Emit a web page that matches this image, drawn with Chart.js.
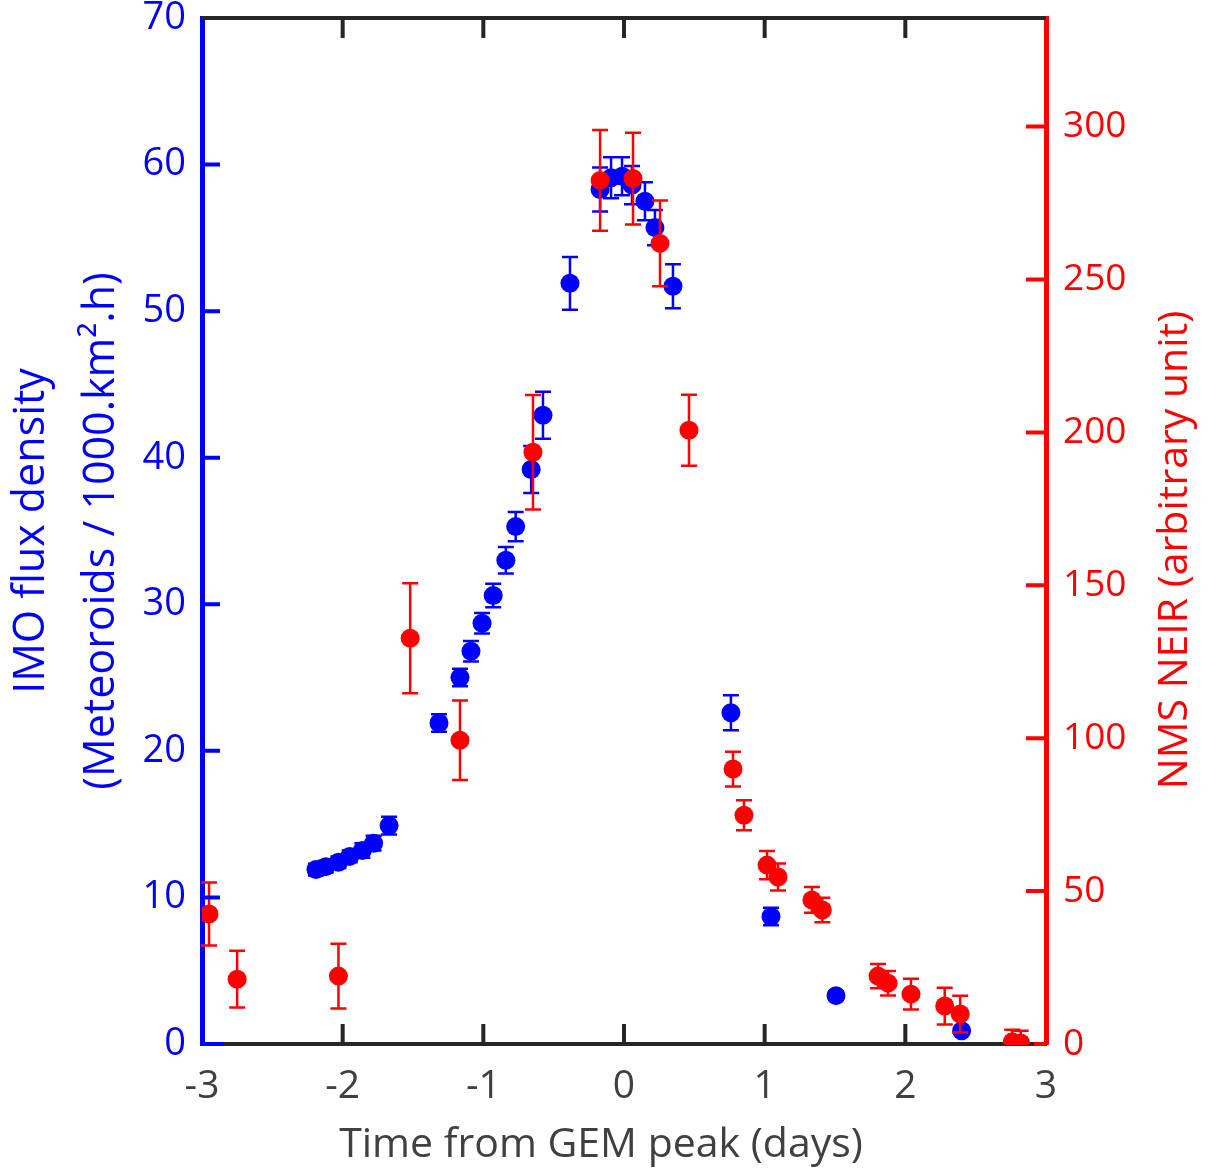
<!DOCTYPE html>
<html>
<head>
<meta charset="utf-8">
<script src="https://cdn.jsdelivr.net/npm/chart.js@4.4.0/dist/chart.umd.min.js"></script>
<style>
html, body { margin: 0; padding: 0; background: #fff; }
</style>
</head>
<body>
<canvas id="chart1" width="1209" height="1172"></canvas>
<script>
// IMO flux density (left axis)
let imoTime = [-2.19, -2.12, -2.03, -1.95, -1.86, -1.78, -1.67, -1.315, -1.166, -1.088, -1.009, -0.93, -0.84, -0.77, -0.66, -0.576, -0.384, -0.17, -0.092, -0.014, 0.057, 0.149, 0.22, 0.348, 0.76, 1.045, 1.507, 2.40]
let imoFlux = [11.9, 12.1, 12.4, 12.8, 13.2, 13.7, 14.9, 21.9, 25.0, 26.8, 28.7, 30.6, 33.0, 35.3, 39.2, 42.9, 51.9, 58.3, 59.1, 59.2, 58.6, 57.5, 55.7, 51.7, 22.6, 8.7, 3.3, 0.9]
let imoErr  = [0.4, 0.4, 0.4, 0.4, 0.5, 0.5, 0.6, 0.6, 0.6, 0.7, 0.7, 0.8, 0.9, 1.0, 1.6, 1.6, 1.8, 1.5, 1.4, 1.3, 1.3, 1.3, 1.2, 1.5, 1.2, 0.6, 0.3, 0.2]

// NMS NEIR (right axis)
let neirTime  = [-2.95, -2.75, -2.03, -1.52, -1.166, -0.647, -0.17, 0.064, 0.256, 0.462, 0.775, 0.853, 1.017, 1.095, 1.336, 1.41, 1.806, 1.877, 2.04, 2.28, 2.39, 2.76, 2.82]
let neirValue = [42.5, 21.2, 22.2, 132.7, 99.3, 193.5, 282.4, 283.0, 261.8, 200.7, 89.9, 74.8, 58.5, 54.6, 47.1, 43.8, 22.2, 19.9, 16.3, 12.4, 9.8, 0.7, 0.3]
let neirErr   = [10.3, 9.3, 10.6, 18.0, 13.0, 18.7, 16.5, 15.0, 14.0, 11.6, 5.7, 4.9, 4.6, 4.4, 4.2, 4.0, 4.0, 4.0, 5.0, 6.0, 6.0, 4.0, 4.0]

let xMin = -3, xMax = 3
let fluxMax = 70
let neirMax = 335.5

let blue = '#0000ff'
let red = '#ff0000'
let frameColor = '#262626'
let labelGray = '#404040'
let fontFamily = "'Open Sans', sans-serif"

function toPoints(xs, ys) {
    let pts = [];
    for (var i = 0; i < xs.length; i++) {
        pts.push({x: xs[i], y: ys[i]});
    }
    return pts;
}

// vertical error bars under each dataset
let errorBars = {
    id: 'errorBars',
    beforeDatasetDraw(chart, args) {
        let ds = chart.data.datasets[args.index];
        let yScale = chart.scales[args.meta.yAxisID];
        let ctx = chart.ctx;
        ctx.save();
        ctx.strokeStyle = ds.borderColor;
        ctx.lineWidth = 2.5;
        ctx.beginPath();
        args.meta.data.forEach((pt, i) => {
            let v = ds.data[i].y;
            let top = yScale.getPixelForValue(v + ds.errors[i]);
            let bot = yScale.getPixelForValue(Math.max(v - ds.errors[i], 0));
            ctx.moveTo(pt.x, top); ctx.lineTo(pt.x, bot);
            ctx.moveTo(pt.x - 8, top); ctx.lineTo(pt.x + 8, top);
            ctx.moveTo(pt.x - 8, bot); ctx.lineTo(pt.x + 8, bot);
        });
        ctx.stroke();
        ctx.restore();
    }
};

// MATLAB-style box: top line, inward ticks, x title and right axis title
let boxTicks = {
    id: 'boxTicks',
    afterDraw(chart) {
        let ctx = chart.ctx;
        let a = chart.chartArea;
        let s = chart.scales;
        ctx.save();
        ctx.lineWidth = 4;
        ctx.strokeStyle = frameColor;
        ctx.beginPath();
        ctx.moveTo(a.left, a.top); ctx.lineTo(a.right, a.top);
        s.x.ticks.forEach(t => {
            let px = s.x.getPixelForValue(t.value);
            if (Math.abs(px - a.left) < 3 || Math.abs(px - a.right) < 3) return;
            ctx.moveTo(px, a.bottom); ctx.lineTo(px, a.bottom - 20);
            ctx.moveTo(px, a.top); ctx.lineTo(px, a.top + 20);
        });
        ctx.stroke();

        ctx.strokeStyle = blue;
        ctx.beginPath();
        s.y.ticks.forEach(t => {
            let py = s.y.getPixelForValue(t.value);
            if (Math.abs(py - a.bottom) < 3 || Math.abs(py - a.top) < 3) return;
            ctx.moveTo(a.left, py); ctx.lineTo(a.left + 18, py);
        });
        ctx.moveTo(a.left, a.bottom); ctx.lineTo(a.left + 22, a.bottom);
        ctx.stroke();

        ctx.strokeStyle = red;
        ctx.beginPath();
        s.y2.ticks.forEach(t => {
            let py = s.y2.getPixelForValue(t.value);
            if (Math.abs(py - a.bottom) < 3) return;
            ctx.moveTo(a.right, py); ctx.lineTo(a.right - 20, py);
        });
        ctx.moveTo(a.right, a.bottom); ctx.lineTo(a.right - 12, a.bottom);
        ctx.stroke();

        ctx.fillStyle = labelGray;
        ctx.font = '41px ' + fontFamily;
        ctx.textAlign = 'center';
        ctx.textBaseline = 'middle';
        ctx.fillText('Time from GEM peak (days)', 601, 1145);

        ctx.translate(1175, 550);
        ctx.rotate(-Math.PI / 2);
        ctx.fillStyle = red;
        ctx.fillText('NMS NEIR (arbitrary unit)', 0, 0);
        ctx.restore();
    }
};

let ctx1 = document.getElementById('chart1').getContext('2d');
let chart = new Chart(ctx1, {
    type: 'scatter',
    data: {
        datasets: [{
            label: 'IMO',
            data: toPoints(imoTime, imoFlux),
            errors: imoErr,
            yAxisID: 'y',
            backgroundColor: blue,
            borderColor: blue,
            pointRadius: 9.5,
            pointBorderWidth: 0,
            order: 2
        }, {
            label: 'NMS NEIR',
            data: toPoints(neirTime, neirValue),
            errors: neirErr,
            yAxisID: 'y2',
            backgroundColor: red,
            borderColor: red,
            pointRadius: 9.5,
            pointBorderWidth: 0,
            order: 1
        }]
    },
    options: {
        responsive: false,
        animation: false,
        devicePixelRatio: 1,
        layout: {padding: {top: 18, left: 0, right: 0, bottom: 0}},
        plugins: {
            legend: {display: false},
            tooltip: {enabled: false}
        },
        scales: {
            x: {
                type: 'linear',
                min: xMin,
                max: xMax,
                afterFit: (scale) => { scale.height = 128; },
                ticks: {stepSize: 1, color: labelGray, padding: 19, font: {family: fontFamily, size: 39}},
                grid: {drawOnChartArea: false, drawTicks: false},
                border: {color: frameColor, width: 4}
            },
            y: {
                position: 'left',
                min: 0,
                max: fluxMax,
                afterFit: (scale) => { scale.width = 202; },
                ticks: {stepSize: 10, color: blue, padding: 16, font: {family: fontFamily, size: 38, lineHeight: 0.01}},
                grid: {drawOnChartArea: false, drawTicks: false},
                border: {color: blue, width: 5},
                title: {
                    display: true,
                    text: ['IMO flux density', '(Meteoroids / 1000.km\u00b2.h)'],
                    color: blue,
                    padding: {top: -3, bottom: 0},
                    font: {family: fontFamily, size: 43, lineHeight: 1.63}
                }
            },
            y2: {
                position: 'right',
                min: 0,
                max: neirMax,
                afterFit: (scale) => { scale.width = 163; },
                ticks: {stepSize: 50, includeBounds: false, color: red, padding: 17, font: {family: fontFamily, size: 37, lineHeight: 0.01}},
                grid: {drawOnChartArea: false, drawTicks: false},
                border: {color: red, width: 5}
            }
        }
    },
    plugins: [errorBars, boxTicks]
});
</script>
</body>
</html>
